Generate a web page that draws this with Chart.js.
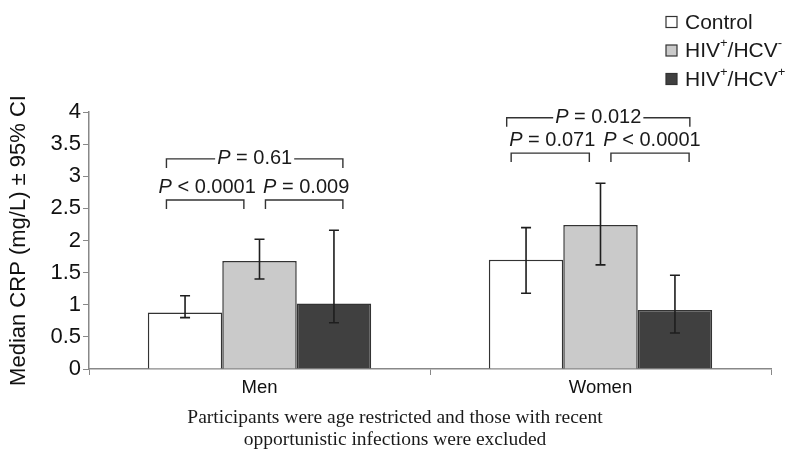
<!DOCTYPE html>
<html>
<head>
<meta charset="utf-8">
<script src="https://cdn.jsdelivr.net/npm/chart.js@4"></script>
<style>
  html, body { margin: 0; padding: 0; background: #fff; }
  #wrap { width: 800px; height: 471px; }
</style>
</head>
<body>
<div id="wrap"><canvas id="crp" width="800" height="471"></canvas></div>
<script>
"use strict"

// categories and series
const groups = ['Men', 'Women']
const seriesNames = ['Control', 'HIV+/HCV-', 'HIV+/HCV+']
const controlValues = [0.88, 1.70]
const hivValues = [1.68, 2.24]
const coinfValues = [1.02, 0.92]

// 95% CI (low / high) per series
const controlLow = [0.80, 1.18]
const controlHigh = [1.14, 2.20]
const hivLow = [1.40, 1.62]
const hivHigh = [2.02, 2.89]
const coinfLow = [0.72, 0.56]
const coinfHigh = [2.16, 1.46]

// significance brackets: group, from/to in bar units inside the group, level in mg/L
const bracketGroup = [0, 0, 0, 1, 1, 1]
const bracketFrom = [0.25, 0.25, 1.58, 0.24, 0.30, 1.64]
const bracketTo = [2.62, 1.29, 2.62, 2.70, 1.35, 2.69]
const bracketLevel = [3.27, 2.63, 2.63, 3.91, 3.36, 3.36]
const bracketText = ['= 0.61', '< 0.0001', '= 0.009', '= 0.012', '= 0.071', '< 0.0001']
const bracketOnLine = [true, false, false, true, false, false]

const yTicks = [0, 0.5, 1, 1.5, 2, 2.5, 3, 3.5, 4]
const footnote = ['Participants were age restricted and those with recent',
                  'opportunistic infections were excluded']

const fills = ['#ffffff', '#cacaca', '#404040']
const sans = '"Liberation Sans", Arial, sans-serif'
const serif = '"Liberation Serif", "Times New Roman", serif'

const errLow = [controlLow, hivLow, coinfLow]
const errHigh = [controlHigh, hivHigh, coinfHigh]

const LABEL_SIZE = 20

const draw_label = (ctx, x, y, rest) => {
    // italic P followed by normal text, centred on x
    ctx.font = `italic ${LABEL_SIZE}px ${sans}`
    const wP = ctx.measureText('P').width
    ctx.font = `${LABEL_SIZE}px ${sans}`
    const wR = ctx.measureText(' ' + rest).width
    const total = wP + wR
    const start = x - total / 2
    ctx.textAlign = 'left'
    ctx.textBaseline = 'middle'
    ctx.font = `italic ${LABEL_SIZE}px ${sans}`
    ctx.fillText('P', start, y)
    ctx.font = `${LABEL_SIZE}px ${sans}`
    ctx.fillText(' ' + rest, start + wP, y)
    return total
}

const errorBars = {
    id: 'errorBars',
    afterDatasetsDraw(chart) {
        const ctx = chart.ctx
        const y = chart.scales.y
        ctx.save()
        ctx.strokeStyle = '#1e1e1e'
        ctx.lineWidth = 1.6
        chart.data.datasets.forEach((ds, i) => {
            const meta = chart.getDatasetMeta(i)
            meta.data.forEach((bar, j) => {
                const top = y.getPixelForValue(errHigh[i][j])
                const bot = y.getPixelForValue(errLow[i][j])
                ctx.beginPath()
                ctx.moveTo(bar.x, top); ctx.lineTo(bar.x, bot)
                ctx.moveTo(bar.x - 5, top); ctx.lineTo(bar.x + 5, top)
                ctx.moveTo(bar.x - 5, bot); ctx.lineTo(bar.x + 5, bot)
                ctx.stroke()
            })
        })
        ctx.restore()
    }
}

const brackets = {
    id: 'brackets',
    afterDraw(chart) {
        const ctx = chart.ctx
        const y = chart.scales.y
        const meta = chart.getDatasetMeta(0)
        ctx.save()
        ctx.strokeStyle = '#333'
        ctx.fillStyle = '#1a1a1a'
        ctx.lineWidth = 1.4
        bracketGroup.forEach((g, k) => {
            const bar = meta.data[g]
            const left = bar.x - bar.width / 2
            const x1 = left + bracketFrom[k] * bar.width
            const x2 = left + bracketTo[k] * bar.width
            const yl = y.getPixelForValue(bracketLevel[k])
            const yd = yl + 9
            const mid = (x1 + x2) / 2
            if (bracketOnLine[k]) {
                const w = draw_label(ctx, mid, yl, bracketText[k])
                ctx.beginPath()
                ctx.moveTo(x1, yd); ctx.lineTo(x1, yl); ctx.lineTo(mid - w / 2 - 2, yl)
                ctx.moveTo(mid + w / 2 + 2, yl); ctx.lineTo(x2, yl); ctx.lineTo(x2, yd)
                ctx.stroke()
            } else {
                draw_label(ctx, mid + 2, yl - 13, bracketText[k])
                ctx.beginPath()
                ctx.moveTo(x1, yd); ctx.lineTo(x1, yl); ctx.lineTo(x2, yl); ctx.lineTo(x2, yd)
                ctx.stroke()
            }
        })
        ctx.restore()
    }
}

const legendAndNote = {
    id: 'legendAndNote',
    afterDraw(chart) {
        const ctx = chart.ctx
        ctx.save()
        ctx.textBaseline = 'middle'
        ctx.textAlign = 'left'
        seriesNames.forEach((name, i) => {
            const yy = 22 + i * 28.5
            ctx.fillStyle = fills[i]
            ctx.fillRect(666, yy - 5.5, 11, 11)
            ctx.strokeStyle = '#333'
            ctx.lineWidth = 1.2
            ctx.strokeRect(666, yy - 5.5, 11, 11)
            ctx.fillStyle = '#1a1a1a'
            // normal text with + / - as superscripts
            let x = 685
            for (const ch of name) {
                if (ch === '+' || ch === '-') {
                    ctx.font = `13px ${sans}`
                    ctx.fillText(ch, x, yy - 7)
                    x += ctx.measureText(ch).width
                } else {
                    ctx.font = `21px ${sans}`
                    ctx.fillText(ch, x, yy + 1)
                    x += ctx.measureText(ch).width
                }
            }
        })
        ctx.font = `19.5px ${serif}`
        ctx.textAlign = 'center'
        footnote.forEach((line, i) => {
            ctx.fillText(line, 395, 418 + i * 22)
        })
        ctx.restore()
    }
}

const ctx = document.getElementById('crp').getContext('2d')

new Chart(ctx, {
    type: 'bar',
    data: {
        labels: groups,
        datasets: [controlValues, hivValues, coinfValues].map((vals, i) => ({
            label: seriesNames[i],
            data: vals,
            backgroundColor: fills[i],
            borderColor: '#333',
            borderWidth: 1.5,
            borderSkipped: 'start',
            barPercentage: 1,
            categoryPercentage: 0.655
        }))
    },
    options: {
        responsive: false,
        animation: false,
        devicePixelRatio: 1,
        layout: { padding: { left: 0, right: 29, top: 112, bottom: 72 } },
        plugins: {
            legend: { display: false },
            tooltip: { enabled: false }
        },
        scales: {
            x: {
                grid: { drawOnChartArea: false, tickLength: 6, color: '#888', offset: true },
                border: { color: '#888', width: 1.5 },
                ticks: { color: '#111', font: { family: sans, size: 18.5 }, padding: 2 },
                afterFit: (s) => { s.height = 30 }
            },
            y: {
                min: 0,
                max: 4,
                afterBuildTicks: (s) => { s.ticks = yTicks.map(v => ({ value: v })) },
                grid: { drawOnChartArea: false, tickLength: 6, color: '#888' },
                border: { color: '#888', width: 1.5 },
                ticks: {
                    color: '#111',
                    font: { family: sans, size: 22 },
                    padding: 2,
                    callback: (v) => String(v)
                },
                title: {
                    display: true,
                    text: 'Median CRP (mg/L) \u00b1 95% CI',
                    color: '#111',
                    font: { family: sans, size: 22 },
                    padding: { top: 6, bottom: 0 }
                },
                afterFit: (s) => { s.width = 89 }
            }
        }
    },
    plugins: [errorBars, brackets, legendAndNote]
})
</script>
</body>
</html>
